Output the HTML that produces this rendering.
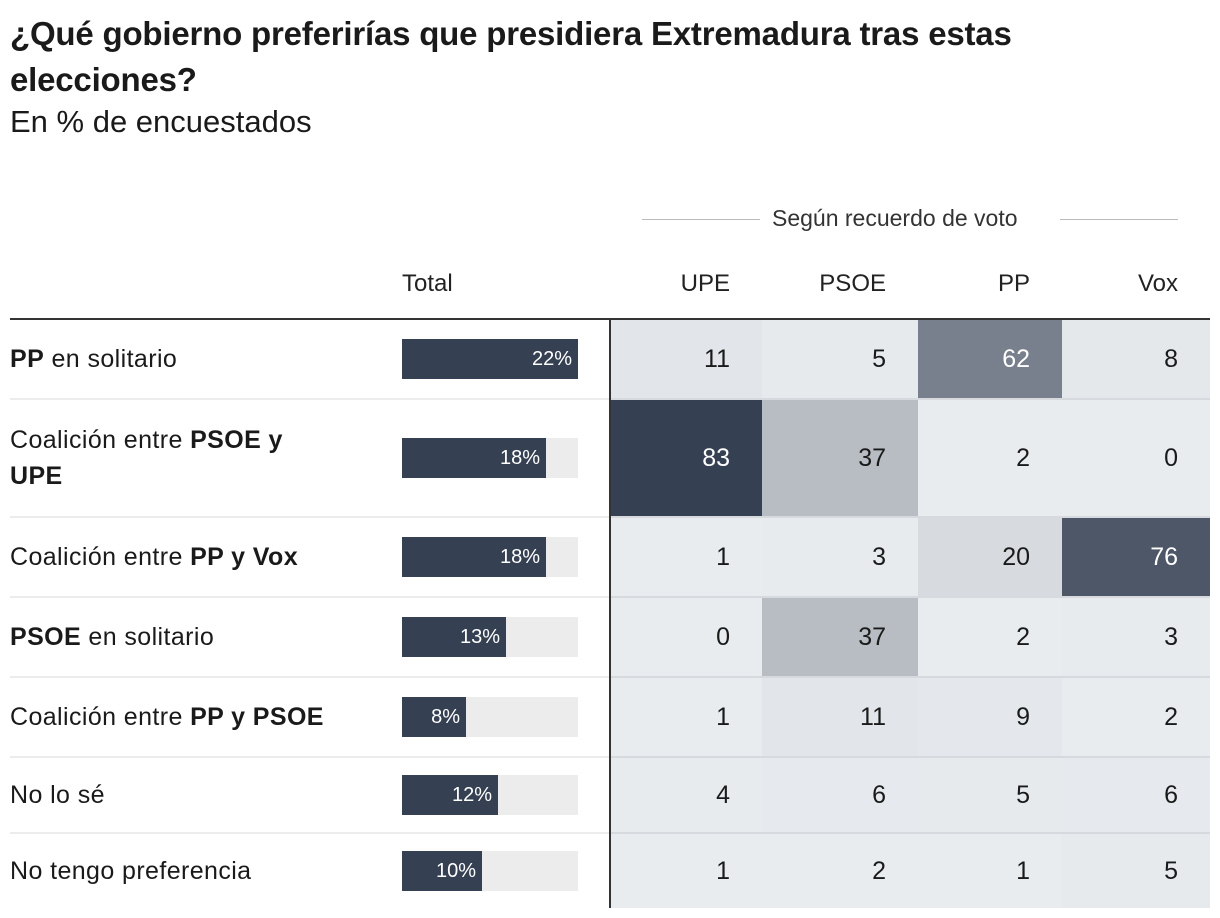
<!DOCTYPE html>
<html><head><meta charset="utf-8">
<style>
body{margin:0;width:1220px;height:918px;background:#fff;font-family:"Liberation Sans",sans-serif;color:#1a1a1a;position:relative;overflow:hidden}
.abs{position:absolute;white-space:nowrap}
.t{font-weight:bold;font-size:33px;letter-spacing:-0.2px}
.lbl{font-size:25px;line-height:36px;letter-spacing:0.4px}
.num{font-size:25px}
</style></head><body>
<div class="abs t" style="left:10px;top:15px">¿Qué gobierno preferirías que presidiera Extremadura tras estas</div>
<div class="abs t" style="left:10px;top:61px">elecciones?</div>
<div class="abs" style="left:10px;top:104px;font-size:31px">En % de encuestados</div>
<div class="abs" style="left:642px;top:219px;width:118px;height:1px;background:#bbb"></div>
<div class="abs" style="left:1060px;top:219px;width:118px;height:1px;background:#bbb"></div>
<div class="abs" style="left:772px;top:205px;font-size:23px;color:#333">Según recuerdo de voto</div>
<div id="root"></div>
<script>
const rowLabels=['<b>PP</b> en solitario','Coalición entre <b>PSOE y<br>UPE</b>','Coalición entre <b>PP y Vox</b>','<b>PSOE</b> en solitario','Coalición entre <b>PP y PSOE</b>','No lo sé','No tengo preferencia'];
const totals=[22,18,18,13,8,12,10];
const columns=['UPE','PSOE','PP','Vox'];
const upe=[11,83,1,0,1,4,1];
const psoe=[5,37,3,37,11,6,2];
const pp=[62,2,20,2,9,5,1];
const vox=[8,0,76,3,2,6,5];
const series=[upe,psoe,pp,vox];

const root=document.getElementById('root');
const rowTops=[320,400,518,598,678,758,834,908];
const colX=[610,762,918,1062,1210];
const barX=402,barW=176,totMax=22;
function mk(css,name,inter){const d=document.createElement('div');d.className='abs';d.style.cssText=css;


root.appendChild(d);return d;}
function color(v){const t=Math.pow(Math.min(v/83,1),1.6);const a=[233,236,239],b=[53,64,82];
return 'rgb('+a.map((c,i)=>Math.round(c+(b[i]-c)*t)).join(',')+')';}
let h=mk('left:402px;top:270px;font-size:24px;color:#222','total-header',false);h.textContent='Total';
columns.forEach((c,j)=>{let e=mk('left:'+colX[j]+'px;width:'+(colX[j+1]-colX[j]-32)+'px;text-align:right;top:270px;font-size:24px;color:#222','column-header-'+c.toLowerCase(),false);e.textContent=c;});
mk('left:10px;top:318px;width:1200px;height:2px;background:#333','header-rule',false);
rowLabels.forEach((lab,i)=>{
 const y0=rowTops[i],y1=rowTops[i+1]-(i<6?2:0),mid=(y0+y1)/2;
 if(i<6){mk('left:10px;top:'+(y1)+'px;width:600px;height:2px;background:#ececec','row-rule',false);
  mk('left:610px;top:'+(y1)+'px;width:600px;height:2px;background:#d6d9dd','row-rule-heat',false);}
 const l=mk('left:10px;top:'+(mid-(i==1?36:18))+'px','row-label',false);l.classList.add('lbl');l.innerHTML=lab;
 mk('left:'+barX+'px;top:'+(mid-20)+'px;width:'+barW+'px;height:40px;background:#ececec','total-bar-track',false);
 const w=barW*totals[i]/totMax;
 const b=mk('left:'+barX+'px;top:'+(mid-20)+'px;width:'+w+'px;height:40px;background:#354052;color:#fff;font-size:20px;line-height:40px;text-align:right;box-sizing:border-box;padding-right:6px','total-bar',false);
 b.textContent=totals[i]+'%';
 series.forEach((s,j)=>{const v=s[i];
  const c=mk('left:'+colX[j]+'px;top:'+y0+'px;width:'+(colX[j+1]-colX[j])+'px;height:'+(y1-y0)+'px;background:'+color(v)+';color:'+(v>50?'#fff':'#1a1a1a')+';text-align:right;box-sizing:border-box;padding-right:32px;line-height:'+(y1-y0)+'px','heat-cell-'+columns[j].toLowerCase(),false);
  c.classList.add('num');c.textContent=v;});
});
mk('left:609px;top:318px;width:2px;height:590px;background:#333','heat-divider',false);
</script>
</body></html>
